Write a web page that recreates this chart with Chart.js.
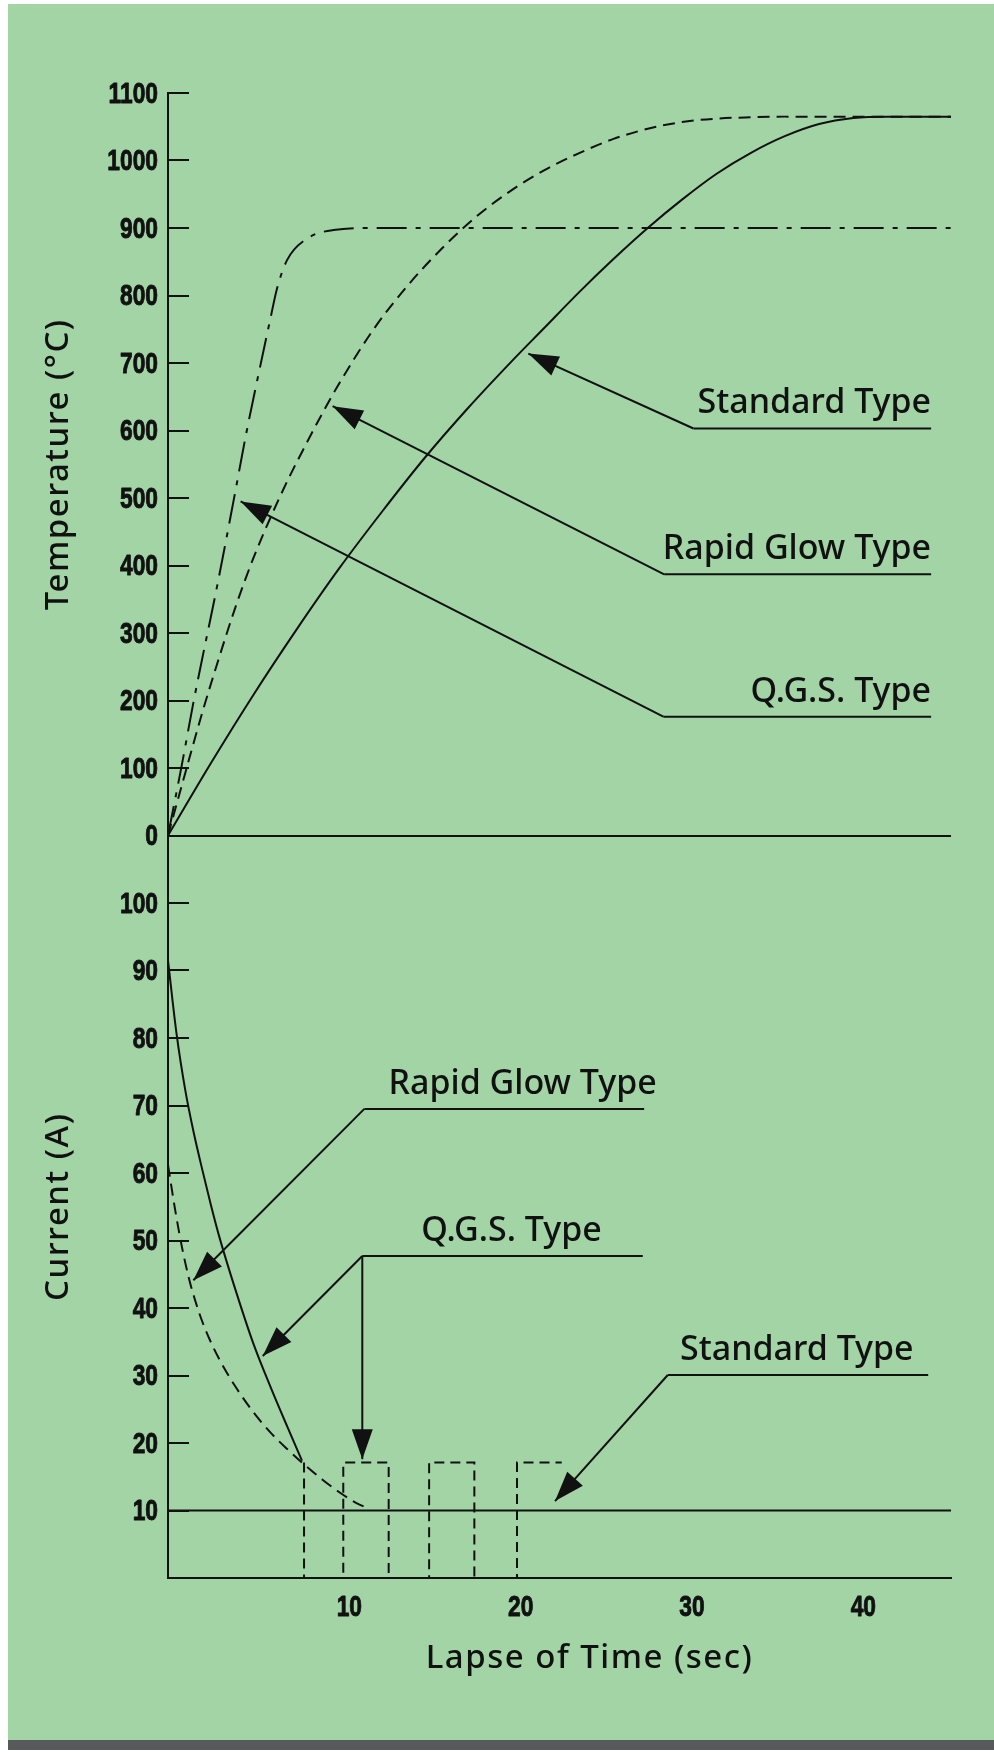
<!DOCTYPE html>
<html>
<head>
<meta charset="utf-8">
<title>Glow starter temperature and current</title>
<script src="https://cdn.jsdelivr.net/npm/chart.js@4.4.1/dist/chart.umd.min.js"></script>
<style>
    html, body {
        margin: 0;
        padding: 0;
        background: #ffffff;
    }
    body {
        position: relative;
        width: 994px;
        height: 1753px;
        overflow: hidden;
    }
    #panel {
        position: absolute;
        left: 8px;
        top: 4px;
        width: 986px;
        height: 1736px;
        background: #a2d4a6;
    }
    #bar {
        position: absolute;
        left: 8px;
        top: 1740px;
        width: 986px;
        height: 10px;
        background: #58595b;
    }
    #plot {
        position: absolute;
        left: 0;
        top: 0;
    }
</style>
</head>
<body>
<div id="panel"></div>
<div id="bar"></div>
<canvas id="plot" width="994" height="1753"></canvas>
<script>
// Axes
const timeMax = 45.7;          // sec
const tempMax = 1100;          // deg C, top of the upper panel
const curTop = 110;            // A, the current panel runs 0..110, temperature 0 sits on top of it
const timeTicks = [10, 20, 30, 40];
const tempTicks = [0, 100, 200, 300, 400, 500, 600, 700, 800, 900, 1000, 1100];
const currentTicks = [10, 20, 30, 40, 50, 60, 70, 80, 90, 100];

// Temperature rise (deg C)
const stdTempTime = [0, 2.5, 5, 7.5, 10, 12.5, 15, 17.5, 20, 22, 24, 26, 28, 30, 32, 34, 36, 38, 40, 42, 45.7];
const stdTempValue = [0, 107, 209, 305, 396, 480, 560, 633, 701, 753, 805, 854, 900, 942, 980, 1011, 1036, 1054, 1063, 1065, 1065];

const rapidTempTime = [0, 1, 2, 3, 4, 5, 6, 7, 8, 9, 10, 12, 14, 16, 18, 20, 22, 24, 26, 28, 30, 32, 34, 36, 45.7];
const rapidTempValue = [0, 92, 182, 265, 343, 412, 472, 527, 577, 625, 670, 750, 815, 870, 917, 955, 986, 1011, 1032, 1047, 1057, 1062, 1064, 1065, 1065];

const qgsTempTime = [0, 0.81, 1.49, 2.95, 3.82, 4.6, 5.38, 5.97, 6.36, 6.94, 8.1, 9.66, 12, 45.7];
const qgsTempValue = [0, 105, 198, 380, 495, 600, 695, 765, 810, 852, 884, 897, 900, 900];

// Current (A)
const stdCurTime = [0, 0.5, 1, 1.5, 2, 2.5, 3, 4, 5, 6, 7, 7.82];
const stdCurValue = [91.5, 80.6, 72.4, 66.0, 60.5, 55.3, 50.5, 42.2, 34.6, 28.2, 22.2, 17.4];

const stdGlowTime = [0, 45.7];
const stdGlowValue = [10, 10];

const rapidCurTime = [0, 0.4, 0.8, 1.2, 1.6, 2, 2.6, 3.3, 4, 5, 6, 7, 8, 9, 10, 11, 11.69];
const rapidCurValue = [61.2, 54.8, 49.2, 44.6, 41.0, 38.0, 34.4, 31.0, 28.1, 24.5, 21.5, 19.0, 16.7, 14.6, 12.7, 11.1, 10.3];

const qgsCurTime = [7.94, 7.94, 10.23, 10.23, 12.88, 12.88, 15.24, 15.24, 17.88, 17.88, 20.37, 20.37, 22.98];
const qgsCurValue = [17.1, 0, 0, 17.1, 17.1, 0, 0, 17.1, 17.1, 0, 0, 17.1, 17.1];

// Callouts: leader tips and elbows in chart units (sec, deg C or A)
const callouts = [
    { text: 'Standard Type', axis: 'yTemp', tips: [[21.03, 714]], elbow: [30.67, 603], end: 44.54, textAt: 44.54, align: 'right' },
    { text: 'Rapid Glow Type', axis: 'yTemp', tips: [[9.61, 636]], elbow: [28.96, 387], end: 44.54, textAt: 44.54, align: 'right' },
    { text: 'Q.G.S. Type', axis: 'yTemp', tips: [[4.24, 495]], elbow: [28.91, 176], end: 44.54, textAt: 44.54, align: 'right' },
    { text: 'Rapid Glow Type', axis: 'y', tips: [[1.48, 44.1]], elbow: [11.46, 69.5], end: 27.79, textAt: 20.7, align: 'center' },
    { text: 'Q.G.S. Type', axis: 'y', tips: [[5.53, 32.9], [11.34, 17.6]], elbow: [11.34, 47.7], end: 27.71, textAt: 20.05, align: 'center' },
    { text: 'Standard Type', axis: 'y', tips: [[22.59, 11.4]], elbow: [29.17, 30.07], end: 44.37, textAt: 36.7, align: 'center' },
];

const INK = '#111111';
const tickFont = "bold 30px 'Liberation Sans', Arial, sans-serif";
const tickSqueeze = 0.76;   // narrow the numerals
const textFont = "500 34px 'Noto Sans', 'Open Sans', sans-serif";
const titleFont = "500 33px 'Noto Sans', 'Open Sans', sans-serif";

const pts = (xs, ys) => xs.map((x, i) => ({ x: x, y: ys[i] }));

function curve(label, xs, ys, yAxisID, dash, smooth = true) {
    return {
        label: label,
        data: pts(xs, ys),
        yAxisID: yAxisID,
        borderColor: INK,
        borderWidth: 2,
        borderDash: dash,
        pointRadius: 0,
        fill: false,
        tension: 0,
        cubicInterpolationMode: smooth ? 'monotone' : 'default',
    };
}

function arrowHead(ctx, fx, fy, tx, ty) {
    const len = 30, half = 10.5;
    const a = Math.atan2(ty - fy, tx - fx);
    const bx = tx - len * Math.cos(a);
    const by = ty - len * Math.sin(a);
    ctx.beginPath();
    ctx.moveTo(tx, ty);
    ctx.lineTo(bx + half * Math.sin(a), by - half * Math.cos(a));
    ctx.lineTo(bx - half * Math.sin(a), by + half * Math.cos(a));
    ctx.closePath();
    ctx.fill();
}

function squeezedText(ctx, text, x, y, align) {
    ctx.save();
    ctx.translate(x, y);
    ctx.scale(tickSqueeze, 1);
    ctx.textAlign = align;
    ctx.fillText(text, 0, 0);
    ctx.strokeText(text, 0, 0);   // a touch heavier
    ctx.restore();
}

// tick marks on the inside of the vertical axis, and condensed tick numerals
const axisDecor = {
    id: 'axisDecor',
    afterDatasetsDraw(chart) {
        const { ctx, scales, chartArea } = chart;
        const y = scales.y, x = scales.x;
        const x0 = chartArea.left;
        ctx.save();
        ctx.strokeStyle = INK;
        ctx.fillStyle = INK;
        ctx.lineWidth = 2;
        y.ticks.forEach((t) => {
            if (t.value === 0 || t.value === curTop) return;
            const py = Math.round(y.getPixelForValue(t.value));
            ctx.beginPath();
            ctx.moveTo(x0, py);
            ctx.lineTo(x0 + 21, py);
            ctx.stroke();
        });
        ctx.font = tickFont;
        ctx.textBaseline = 'middle';
        ctx.lineWidth = 0.9;
        ctx.lineJoin = 'round';
        y.ticks.forEach((t) => {
            if (!t.label) return;
            squeezedText(ctx, t.label, x0 - 10, y.getPixelForValue(t.value) + 1.5, 'right');
        });
        x.ticks.forEach((t) => {
            if (!t.label) return;
            squeezedText(ctx, t.label, x.getPixelForValue(t.value) + 10, chartArea.bottom + 30, 'center');
        });
        ctx.restore();
    }
};

// labelled leaders with arrows, and the axis titles
const annotations = {
    id: 'annotations',
    afterDatasetsDraw(chart) {
        const { ctx, scales, chartArea } = chart;
        const X = (t) => scales.x.getPixelForValue(t);
        ctx.save();
        ctx.strokeStyle = INK;
        ctx.fillStyle = INK;
        ctx.lineWidth = 2;
        ctx.font = textFont;
        ctx.textBaseline = 'alphabetic';

        callouts.forEach((c) => {
            const Y = (v) => scales[c.axis].getPixelForValue(v);
            const ex = X(c.elbow[0]), ey = Y(c.elbow[1]);
            ctx.beginPath();
            ctx.moveTo(X(c.end), ey);
            ctx.lineTo(ex, ey);
            ctx.stroke();
            c.tips.forEach(([tt, tv]) => {
                const tx = X(tt), ty = Y(tv);
                ctx.beginPath();
                ctx.moveTo(ex, ey);
                ctx.lineTo(tx, ty);
                ctx.stroke();
                arrowHead(ctx, ex, ey, tx, ty);
            });
            ctx.textAlign = c.align;
            ctx.fillText(c.text, X(c.textAt), ey - 15);
        });

        // axis titles
        ctx.font = titleFont;
        ctx.letterSpacing = '1.5px';
        const titleX = chartArea.left - 109;
        const rotated = (text, cy) => {
            ctx.save();
            ctx.translate(titleX, cy);
            ctx.rotate(-Math.PI / 2);
            ctx.textAlign = 'center';
            ctx.textBaseline = 'middle';
            ctx.fillText(text, 0, 0);
            ctx.restore();
        };
        rotated('Temperature (°C)', scales.yTemp.getPixelForValue(tempMax / 2));
        rotated('Current (A)', scales.y.getPixelForValue(curTop / 2));
        ctx.textAlign = 'center';
        ctx.textBaseline = 'middle';
        ctx.fillText('Lapse of Time (sec)', X(24.6), chartArea.bottom + 81);
        ctx.restore();
    }
};

const hidden = 'rgba(0,0,0,0)';

const config = {
    type: 'line',
    data: {
        datasets: [
            curve('Standard Type temperature', stdTempTime, stdTempValue, 'yTemp', []),
            curve('Rapid Glow Type temperature', rapidTempTime, rapidTempValue, 'yTemp', [12, 7]),
            curve('Q.G.S. Type temperature', qgsTempTime, qgsTempValue, 'yTemp', [30, 9, 5, 9]),
            curve('Standard Type current', stdCurTime, stdCurValue, 'y', []),
            curve('Standard Type glow current', stdGlowTime, stdGlowValue, 'y', [], false),
            curve('Rapid Glow Type current', rapidCurTime, rapidCurValue, 'y', [12, 7]),
            curve('Q.G.S. Type current', qgsCurTime, qgsCurValue, 'y', [10, 6], false),
        ]
    },
    options: {
        responsive: false,
        animation: false,
        events: [],
        layout: { padding: { left: 0, right: 43, top: 93, bottom: 115 } },
        plugins: {
            legend: { display: false },
            tooltip: { enabled: false },
        },
        scales: {
            x: {
                type: 'linear',
                min: 0,
                max: timeMax,
                grid: { display: false },
                border: { display: true, color: INK, width: 2 },
                ticks: {
                    stepSize: 10,
                    autoSkip: false,
                    maxRotation: 0,
                    color: hidden,   // numerals are drawn condensed by axisDecor
                    callback: (v) => (timeTicks.includes(v) ? String(v) : ''),
                },
                afterFit: (scale) => { scale.height = 60; },
            },
            y: {
                type: 'linear',
                position: 'left',
                min: 0,
                max: 2 * curTop,
                grid: {
                    drawTicks: false,
                    lineWidth: 2,
                    color: (ctx) => (ctx.tick && ctx.tick.value === curTop ? INK : hidden),
                },
                border: { display: true, color: INK, width: 2 },
                ticks: {
                    stepSize: 10,
                    autoSkip: false,
                    color: hidden,
                    callback: (v) => {
                        if (currentTicks.includes(v)) return String(v);
                        const t = (v - curTop) * (tempMax / curTop);
                        if (v >= curTop && tempTicks.includes(t)) return String(t);
                        return '';
                    },
                },
                afterFit: (scale) => { scale.width = 168; },
            },
            yTemp: {
                type: 'linear',
                position: 'left',
                display: false,
                min: -tempMax,
                max: tempMax,
            },
        },
    },
    plugins: [axisDecor, annotations],
};

new Chart(document.getElementById('plot'), config);
</script>
</body>
</html>
